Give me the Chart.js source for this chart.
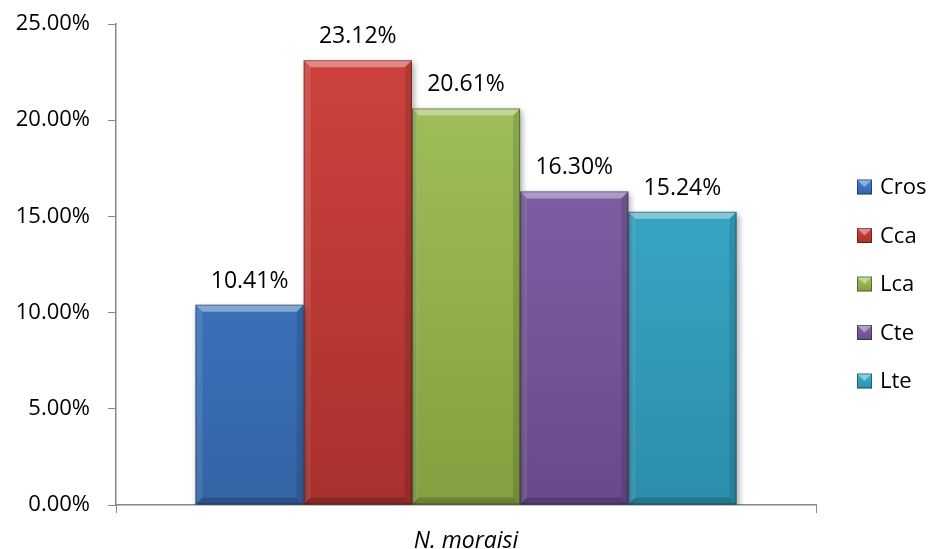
<!DOCTYPE html>
<html>
<head>
<meta charset="utf-8">
<script src="https://cdn.jsdelivr.net/npm/chart.js@4.4.1/dist/chart.umd.min.js"></script>
<style>
  html, body { margin: 0; padding: 0; background: #fff; }
  #wrap { width: 930px; height: 549px; }
</style>
</head>
<body>
<div id="wrap"><canvas id="chart" width="930" height="549"></canvas></div>
<script>
// Data
const categories = ["N. moraisi"];
const seriesNames = ["Cros", "Cca", "Lca", "Cte", "Lte"];
const seriesValues = [10.41, 23.12, 20.61, 16.30, 15.24];
const yTicks = [0, 5, 10, 15, 20, 25];

// top / bottom colour of each bar gradient
const topColors = ["#4384d2", "#d0433f", "#a3c45f", "#8868ad", "#3eb2d0"];
const bottomColors = ["#3563a6", "#a8312e", "#839f3f", "#684a8c", "#2b8fab"];

const FONT = "'Open Sans', 'Liberation Sans', sans-serif";

function barGradient(i) {
  return (ctx) => {
    const area = ctx.chart.chartArea;
    if (!area) return topColors[i];
    const g = ctx.chart.ctx.createLinearGradient(0, area.top, 0, area.bottom);
    g.addColorStop(0, topColors[i]);
    g.addColorStop(1, bottomColors[i]);
    return g;
  };
}

// bevelled edges + soft shadow for the bars
const bevelPlugin = {
  id: "bevel",
  beforeDatasetsDraw(chart) {
    const ctx = chart.ctx;
    ctx.save();
    ctx.shadowColor = "rgba(0,0,0,0.35)";
    ctx.shadowBlur = 6;
    ctx.shadowOffsetX = 2;
    ctx.shadowOffsetY = 3;
  },
  afterDatasetsDraw(chart) {
    const ctx = chart.ctx;
    ctx.restore();
    const b = 7;
    chart.data.datasets.forEach((ds, i) => {
      const meta = chart.getDatasetMeta(i);
      meta.data.forEach((bar) => {
        const l = bar.x - bar.width / 2;
        const r = bar.x + bar.width / 2;
        const t = bar.y;
        const bot = bar.base;
        const poly = (pts, fill) => {
          ctx.beginPath();
          ctx.moveTo(pts[0][0], pts[0][1]);
          for (let k = 1; k < pts.length; k++) ctx.lineTo(pts[k][0], pts[k][1]);
          ctx.closePath();
          ctx.fillStyle = fill;
          ctx.fill();
        };
        ctx.save();
        poly([[l, t], [r, t], [r - b, t + b], [l + b, t + b]], "rgba(255,255,255,0.38)");
        poly([[l, t], [l + b, t + b], [l + b, bot - b], [l, bot]], "rgba(255,255,255,0.10)");
        poly([[r, t], [r - b, t + b], [r - b, bot - b], [r, bot]], "rgba(0,0,0,0.12)");
        poly([[l, bot], [l + b, bot - b], [r - b, bot - b], [r, bot]], "rgba(0,0,0,0.18)");
        ctx.strokeStyle = "rgba(0,0,0,0.35)";
        ctx.lineWidth = 1;
        ctx.strokeRect(l + 0.5, t + 0.5, r - l - 1, bot - t - 1);
        ctx.restore();
      });
    });

    // value labels above each bar
    ctx.save();
    ctx.font = "23px " + FONT;
    ctx.fillStyle = "#000";
    ctx.textAlign = "center";
    ctx.textBaseline = "alphabetic";
    chart.data.datasets.forEach((ds, i) => {
      const meta = chart.getDatasetMeta(i);
      meta.data.forEach((bar, j) => {
        ctx.fillText(ds.data[j].toFixed(2) + "%", bar.x, bar.y - 17);
      });
    });
    ctx.restore();
  }
};

// legend on the right with bevelled square keys
const legendPlugin = {
  id: "sideLegend",
  afterDraw(chart) {
    const ctx = chart.ctx;
    const x = 857, y0 = 187, step = 48.5, s = 15;
    ctx.save();
    ctx.font = "22px " + FONT;
    ctx.textBaseline = "middle";
    ctx.textAlign = "left";
    seriesNames.forEach((name, i) => {
      const y = y0 + i * step;
      const top = y - s / 2;
      const g = ctx.createLinearGradient(0, top, 0, top + s);
      g.addColorStop(0, topColors[i]);
      g.addColorStop(1, bottomColors[i]);
      ctx.fillStyle = g;
      ctx.fillRect(x, top, s, s);
      ctx.fillStyle = "rgba(255,255,255,0.4)";
      ctx.beginPath();
      ctx.moveTo(x, top); ctx.lineTo(x + s, top); ctx.lineTo(x + s / 2, top + s / 2);
      ctx.closePath(); ctx.fill();
      ctx.strokeStyle = "rgba(0,0,0,0.4)";
      ctx.strokeRect(x + 0.5, top + 0.5, s - 1, s - 1);
      ctx.fillStyle = "#000";
      ctx.fillText(name, x + s + 8, y + 1);
    });
    ctx.restore();
  }
};

const ctx = document.getElementById("chart").getContext("2d");

new Chart(ctx, {
  type: "bar",
  data: {
    labels: categories,
    datasets: seriesNames.map((name, i) => ({
      label: name,
      data: [seriesValues[i]],
      backgroundColor: barGradient(i),
      borderWidth: 0,
      categoryPercentage: 0.773,
      barPercentage: 1.0
    }))
  },
  options: {
    responsive: false,
    animation: false,
    layout: { padding: { left: 0, right: 114, top: 24, bottom: 1 } },
    plugins: {
      legend: { display: false },
      tooltip: { enabled: false }
    },
    scales: {
      x: {
        afterFit: (scale) => { scale.height = 43; },
        grid: { drawOnChartArea: false, drawTicks: true, tickLength: 8, color: "#868686", offset: true },
        border: { color: "#868686", width: 1.5 },
        ticks: { color: "#000", padding: 15, font: { family: FONT, size: 23, style: "italic" } }
      },
      y: {
        min: 0,
        max: 25,
        afterFit: (scale) => {
          scale.width = 116;
          scale.paddingTop = 0;
          scale.paddingBottom = 0;
        },
        afterBuildTicks: (scale) => { scale.ticks = yTicks.map((v) => ({ value: v })); },
        grid: { drawOnChartArea: false, drawTicks: true, tickLength: 8, color: "#868686" },
        border: { color: "#868686", width: 1.5 },
        ticks: {
          color: "#000",
          padding: 18,
          font: { family: FONT, size: 22 },
          callback: (v) => Number(v).toFixed(2) + "%"
        }
      }
    }
  },
  plugins: [bevelPlugin, legendPlugin]
});
</script>
</body>
</html>
